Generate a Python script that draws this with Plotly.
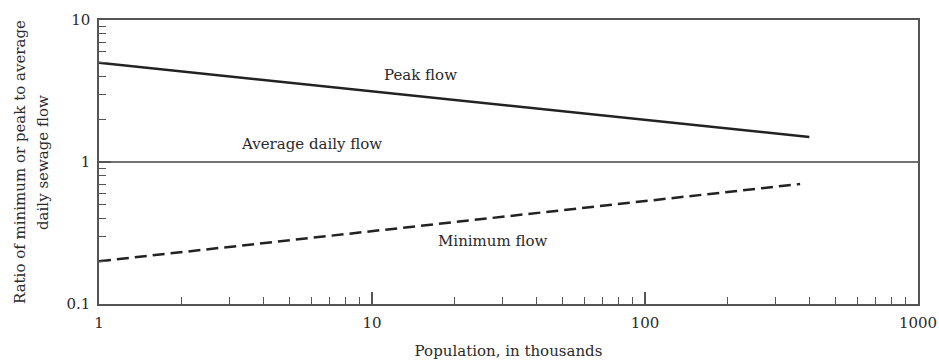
import plotly.graph_objects as go
import math

# Data
peak_x = [1, 400]
peak_y = [5.0, 1.5]
min_x = [1, 370]
min_y = [0.2, 0.7]
avg_x = [1, 1000]
avg_y = [1, 1]

x_major = [1, 10, 100, 1000]
x_major_text = ["1", "10", "100", "1000"]
y_major = [0.1, 1, 10]
y_major_text = ["0.1", "1", "10"]
x_minor = [m * d for d in (1, 10, 100) for m in range(2, 10)]
y_minor = [m * d for d in (0.1, 1) for m in range(2, 10)]

labels = [
    ("Peak flow", 15, 4.1),
    ("Average daily flow", 6.0, 1.33),
    ("Minimum flow", 27.7, 0.276),
]
ytitle_lines = ["Ratio of minimum or peak to average", "daily sewage flow"]

FONT = "DejaVu Serif"
AX = "#555555"
TXT = "#2a2a2a"

W, H = 939, 360
PL, PR, PT, PB = 99, 918, 20, 304           # plot box in window pixels
L, R, T, B = PL, W - PR, PT, H - PB

fig = go.Figure()
fig.add_trace(go.Scatter(x=avg_x, y=avg_y, mode="lines",
                         line=dict(color="#444444", width=1.5), showlegend=False))
fig.add_trace(go.Scatter(x=peak_x, y=peak_y, mode="lines",
                         line=dict(color="#222222", width=2.5), showlegend=False))
fig.add_trace(go.Scatter(x=min_x, y=min_y, mode="lines",
                         line=dict(color="#222222", width=2.5, dash="12px,6px"), showlegend=False))

for text, x, y in labels:
    fig.add_annotation(x=math.log10(x), y=math.log10(y), text=text, showarrow=False,
                       font=dict(family=FONT, size=15, color=TXT))

plot_w = PR - PL
for text, px in zip(ytitle_lines, (20, 43)):
    fig.add_annotation(xref="paper", yref="paper", x=(px - PL) / plot_w, y=0.5,
                       text=text, textangle=-90, showarrow=False,
                       xanchor="center", yanchor="middle",
                       font=dict(family=FONT, size=15, color=TXT))

fig.update_layout(
    width=W, height=H,
    margin=dict(l=L, r=R, t=T, b=B, autoexpand=False),
    paper_bgcolor="white", plot_bgcolor="white",
    font=dict(family=FONT, size=15, color=TXT),
    hovermode=False,
    xaxis=dict(type="log", range=[0, 3], tickmode="array", tickvals=x_major,
               ticktext=x_major_text, ticks="inside", ticklen=12, tickwidth=1.5,
               tickcolor=AX, showline=True, linecolor=AX, linewidth=1.5, mirror=True,
               showgrid=False, zeroline=False, automargin=False, ticklabelstandoff=4,
               ticklabeloverflow="allow",
               minor=dict(tickmode="array", tickvals=x_minor, ticks="inside",
                          ticklen=7, tickwidth=1.2, tickcolor=AX, showgrid=False),
               title=dict(text="Population, in thousands", standoff=16,
                          font=dict(family=FONT, size=15))),
    yaxis=dict(type="log", range=[-1, 1], tickmode="array", tickvals=y_major,
               ticktext=y_major_text, ticks="inside", ticklen=12, tickwidth=1.5,
               tickcolor=AX, showline=True, linecolor=AX, linewidth=1.5, mirror=True,
               showgrid=False, zeroline=False, automargin=False, ticklabelstandoff=4,
               ticklabeloverflow="allow",
               minor=dict(tickmode="array", tickvals=y_minor, ticks="inside",
                          ticklen=7, tickwidth=1.2, tickcolor=AX, showgrid=False)),
)

fig.write_html("out.html", config={"displayModeBar": False},
               post_script="document.body.style.margin='0';")
